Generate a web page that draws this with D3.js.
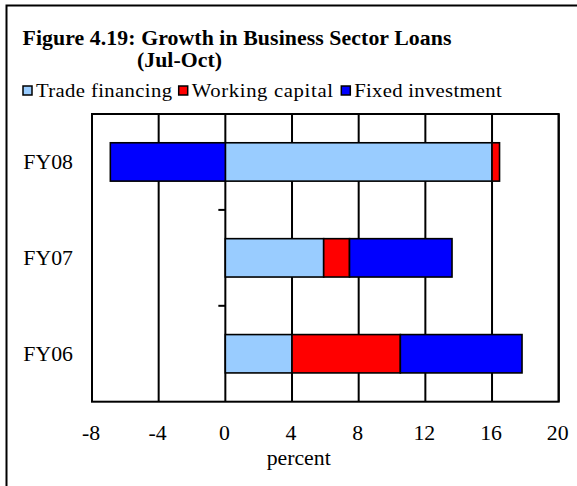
<!DOCTYPE html>
<html lang="en">
<head>
    <meta charset="UTF-8">
    <title>Figure 4.19: Growth in Business Sector Loans</title>
    <script src="https://d3js.org/d3.v7.min.js"></script>
    <style>
        body { margin: 0; background: #fff; }
        svg text { font-family: "Liberation Serif", "Times New Roman", serif; fill: #000; }
        .grid line { stroke: #000; stroke-width: 2px; }
        .seg { stroke: #000; stroke-width: 1.6px; }
    </style>
</head>
<body>
    <svg id="chart" width="577" height="486"></svg>

    <script>
        // Data
        const categories = ["FY08", "FY07", "FY06"];
        const tradeFinancing = [16.0, 5.9, 4.0];
        const workingCapital = [0.45, 1.55, 6.5];
        const fixedInvestment = [-6.9, 6.15, 7.3];
        const seriesNames = ["Trade financing", "Working capital", "Fixed investment"];
        const seriesColors = ["#99CCFF", "#FF0000", "#0000FF"];
        const xTicks = [-8, -4, 0, 4, 8, 12, 16, 20];

        // the original picture is slightly stretched sideways
        const SX = 1.09;

        const svg = d3.select("#chart");

        // put a text at (x,y), stretched horizontally; optional target width
        function label(parent, x, y, str, size, opts = {}) {
            const t = parent.append("text")
                .attr("transform", `translate(${x},${y}) scale(${SX},1)`)
                .attr("font-size", size)
                .attr("text-anchor", opts.anchor || "start")
                .attr("font-weight", opts.bold ? "bold" : null)
                .text(str);
            if (opts.width) {
                t.attr("textLength", opts.width / SX).attr("lengthAdjust", "spacing");
            }
            return t;
        }

        // outer frame (right and bottom edges fall outside the picture)
        svg.append("rect")
            .attr("x", 6.5).attr("y", 5.5)
            .attr("width", 600).attr("height", 500)
            .attr("fill", "none").attr("stroke", "#000").attr("stroke-width", 2);

        // Title
        label(svg, 22.5, 45, "Figure 4.19: Growth in Business Sector Loans", 20, { bold: true, width: 429 });
        label(svg, 137, 67, "(Jul-Oct)", 20, { bold: true, width: 85 });

        // Legend
        const legendText = [[36, 136], [191.7, 141.3], [354.3, 147.4]];
        seriesNames.forEach((name, i) => {
            const tx = legendText[i][0];
            svg.append("rect")
                .attr("x", tx - 13).attr("y", 86)
                .attr("width", 9).attr("height", 9)
                .attr("fill", seriesColors[i]).attr("stroke", "#000").attr("stroke-width", 1.5);
            label(svg, tx, 96.5, name, 19, { width: legendText[i][1] });
        });

        // Plot area
        const margin = { top: 114, left: 92 };
        const width = 466.7, height = 287.7;
        const g = svg.append("g").attr("transform", `translate(${margin.left},${margin.top})`);

        const x = d3.scaleLinear().domain([-8, 20]).range([0, width]);
        const y = d3.scaleBand().domain(categories).range([0, height]).paddingInner(0.6).paddingOuter(0.3);
        const yb = d3.scaleBand().domain(categories).range([0, height]);

        // vertical gridlines
        g.append("g").attr("class", "grid")
            .selectAll("line").data(xTicks).join("line")
            .attr("x1", d => x(d)).attr("x2", d => x(d))
            .attr("y1", 0).attr("y2", height);

        // frame of plot
        g.append("rect")
            .attr("width", width).attr("height", height)
            .attr("fill", "none").attr("stroke", "#000").attr("stroke-width", 2);

        // category separator ticks on the zero axis
        g.selectAll(".ytick").data(categories.slice(1)).join("line")
            .attr("class", "ytick")
            .attr("x1", x(0) - 7).attr("x2", x(0))
            .attr("y1", d => yb(d)).attr("y2", d => yb(d))
            .attr("stroke", "#000").attr("stroke-width", 2);

        // stacked bars
        const table = categories.map((c, i) => ({
            cat: c, trade: tradeFinancing[i], working: workingCapital[i], fixed: fixedInvestment[i]
        }));
        const stack = d3.stack().keys(["trade", "working", "fixed"]).offset(d3.stackOffsetDiverging);
        const layers = stack(table);

        g.selectAll(".layer").data(layers).join("g")
            .attr("class", "layer")
            .attr("fill", (d, i) => seriesColors[i])
            .selectAll("rect").data(d => d).join("rect")
            .attr("class", "seg")
            .attr("x", d => x(Math.min(d[0], d[1])))
            .attr("width", d => Math.abs(x(d[1]) - x(d[0])))
            .attr("y", d => y(d.data.cat))
            .attr("height", y.bandwidth());

        // category labels
        categories.forEach(c => {
            label(svg, 73, margin.top + yb(c) + yb.bandwidth() / 2 + 7, c, 20, { anchor: "end" });
        });

        // x tick labels
        xTicks.forEach(t => {
            label(g, x(t) - 1, 440 - margin.top, String(t), 20, { anchor: "middle" });
        });

        label(g, x(4.4), 465 - margin.top, "percent", 20, { anchor: "middle" });
    </script>
</body>
</html>
